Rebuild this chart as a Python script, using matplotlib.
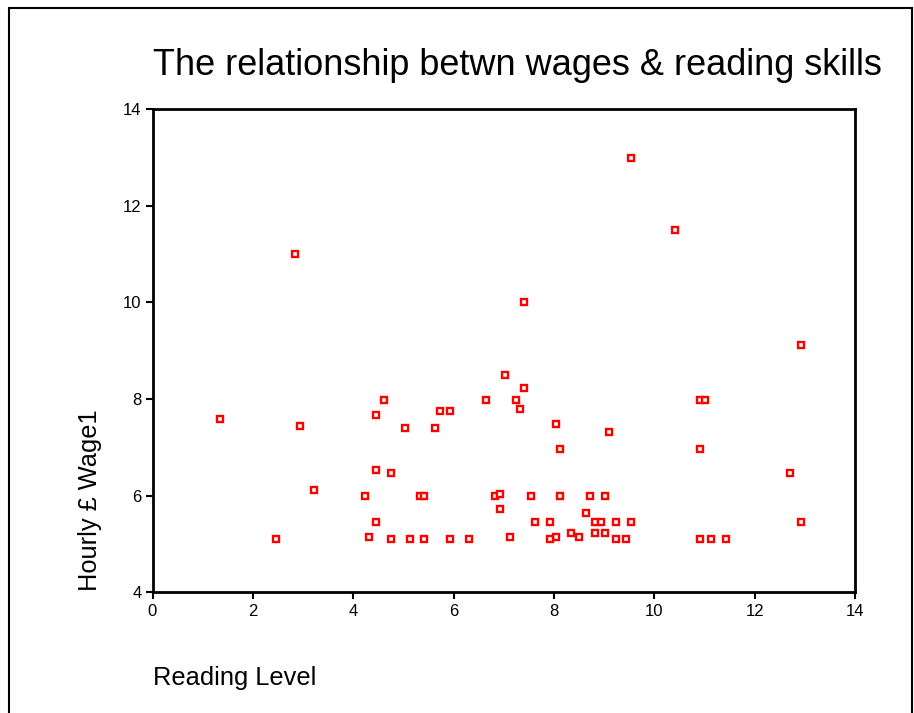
import matplotlib
matplotlib.use("Agg")
import matplotlib.pyplot as plt
from matplotlib.patches import Rectangle

plt.rcParams['font.family'] = ['Liberation Sans', 'DejaVu Sans']

reading = [1.35, 2.46, 2.83, 2.93, 3.21, 4.23, 4.32, 4.45, 4.45, 4.45, 4.61, 4.75, 4.75,
           5.04, 5.13, 5.33, 5.42, 5.42, 5.63, 5.72, 5.93, 5.93, 6.31, 6.65, 6.82, 6.93,
           6.93, 7.03, 7.12, 7.24, 7.32, 7.41, 7.41, 7.54, 7.62, 8.05, 8.05, 7.92, 7.92,
           8.13, 8.13, 8.34, 8.50, 8.64, 8.72, 8.81, 8.81, 8.94, 9.02, 9.02, 9.10, 9.23,
           9.23, 9.44, 9.53, 9.53, 10.42, 10.92, 11.02, 10.92, 10.92, 11.13, 11.43, 12.70,
           12.92, 12.92]
wage = [7.58, 5.11, 11.0, 7.45, 6.12, 6.0, 5.15, 7.67, 6.53, 5.46, 7.97, 6.48, 5.11,
        7.41, 5.11, 6.0, 6.0, 5.11, 7.41, 7.76, 7.76, 5.11, 5.11, 7.97, 6.0, 6.04,
        5.73, 8.5, 5.15, 7.97, 7.8, 8.23, 10.0, 6.0, 5.46, 7.49, 5.15, 5.46, 5.11,
        6.97, 6.0, 5.23, 5.15, 5.64, 6.0, 5.46, 5.23, 5.46, 6.0, 5.23, 7.32, 5.46,
        5.11, 5.11, 5.46, 12.98, 11.5, 7.97, 7.97, 6.97, 5.11, 5.11, 5.11, 6.48,
        9.12, 5.46]

title = "The relationship betwn wages & reading skills"
xlabel = "Reading Level"
ylabel = "Hourly £ Wage1"

W, H = 914, 713
fig = plt.figure(figsize=(W / 100, H / 100), dpi=100)
fig.patch.set_facecolor('white')

# outer frame
fig.add_artist(Rectangle((8.5 / W, -0.05), (912 - 8.5) / W, 1.05 - 8.5 / H,
                         transform=fig.transFigure, fill=False,
                         edgecolor='black', linewidth=1.5))

ax = fig.add_axes([152.5 / W, 1 - 592.4 / H, (855 - 152.5) / W, (592.4 - 109) / H])
ax.plot(reading, wage, linestyle='none', marker='s', markersize=4.8,
        markerfacecolor='white', markeredgecolor='#ff0000', markeredgewidth=1.7)

ax.set_xlim(0, 14)
ax.set_ylim(4, 14)
ax.set_xticks(range(0, 15, 2))
ax.set_yticks(range(4, 15, 2))
for s in ax.spines.values():
    s.set_linewidth(2)
ax.tick_params(direction='out', length=5, width=1.5, labelsize=12, pad=3)

fig.text(153 / W, 1 - 75 / H, title, fontsize=26, ha='left', va='baseline')
fig.text(153 / W, 1 - 685 / H, xlabel, fontsize=18.3, ha='left', va='baseline')
fig.text(90 / W, 1 - 500 / H, ylabel, fontsize=18.3, ha='center', va='center', rotation=90)

fig.savefig("out.png", dpi=100)
